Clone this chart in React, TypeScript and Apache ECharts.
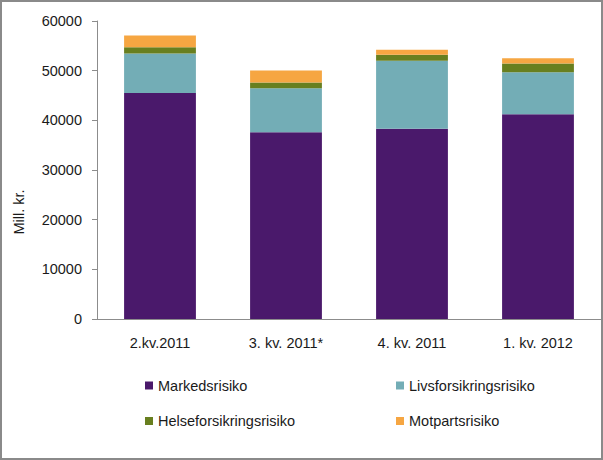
import React, { useEffect, useRef } from "react";
import * as echarts from "echarts";

const categories = ["2.kv.2011", "3. kv. 2011*", "4. kv. 2011", "1. kv. 2012"];
const markedsrisiko = [45500, 37600, 38300, 41200];
const livsforsikringsrisiko = [7950, 8850, 13680, 8500];
const helseforsikringsrisiko = [1270, 1150, 1210, 1750];
const motpartsrisiko = [2350, 2410, 1010, 1070];
const seriesNames = ["Markedsrisiko", "Livsforsikringsrisiko", "Helseforsikringsrisiko", "Motpartsrisiko"];
const colors = ["#4a196b", "#73adb6", "#687f1f", "#f6a642"];

const FONT = "Liberation Sans";
const TEXT = "#1a1a1a";
const FS = 14.5;

export default function App() {
  const ref = useRef<HTMLDivElement>(null);
  useEffect(() => {
    if (!ref.current) return;
    const chart = echarts.init(ref.current, undefined, { renderer: "svg" });
    const data = [markedsrisiko, livsforsikringsrisiko, helseforsikringsrisiko, motpartsrisiko];
    const legendPos = [
      { left: 145, top: 378 },
      { left: 396, top: 378 },
      { left: 145, top: 413.5 },
      { left: 396, top: 413.5 },
    ];
    chart.setOption({
      animation: false,
      backgroundColor: "#ffffff",
      textStyle: { fontFamily: FONT },
      grid: { left: 97, right: 2, top: 21, bottom: 141, containLabel: false },
      legend: seriesNames.map((n, i) => ({
        data: [n],
        left: legendPos[i].left,
        top: legendPos[i].top,
        padding: 0,
        itemWidth: 8,
        itemHeight: 8,
        itemGap: 0,
        icon: "rect",
        selectedMode: false,
        textStyle: { fontFamily: FONT, fontSize: FS, color: TEXT, padding: 0 },
      })),
      xAxis: {
        type: "category",
        data: categories,
        axisLine: { lineStyle: { color: "#8c8c8c", width: 1 } },
        axisTick: { show: false },
        axisLabel: { color: TEXT, fontFamily: FONT, fontSize: FS, margin: 16 },
      },
      yAxis: {
        type: "value",
        min: 0,
        max: 60000,
        interval: 10000,
        splitLine: { show: false },
        axisLine: { show: true, lineStyle: { color: "#8c8c8c", width: 1 } },
        axisTick: { show: true, length: 5, lineStyle: { color: "#8c8c8c" } },
        axisLabel: {
          color: TEXT,
          fontFamily: FONT,
          fontSize: FS,
          margin: 15,
          formatter: (v: number) => String(v),
        },
      },
      series: seriesNames.map((n, i) => ({
        name: n,
        type: "bar",
        stack: "total",
        barWidth: "57%",
        data: data[i],
        itemStyle: { color: colors[i] },
      })),
      graphic: [
        {
          type: "rect",
          shape: { x: 1, y: 1, width: 601, height: 458 },
          style: { fill: "none", stroke: "#8a8a8a", lineWidth: 2 },
          silent: true,
        },
        {
          type: "text",
          x: 19,
          y: 212,
          rotation: Math.PI / 2,
          style: {
            text: "Mill. kr.",
            fontFamily: FONT,
            fontSize: FS,
            fill: TEXT,
            textAlign: "center",
            textVerticalAlign: "middle",
          },
        },
      ],
    });
    return () => chart.dispose();
  }, []);
  return (
    <div
      ref={ref}
      style={{ position: "absolute", left: 0, top: 0, width: 603, height: 460 }}
    />
  );
}
